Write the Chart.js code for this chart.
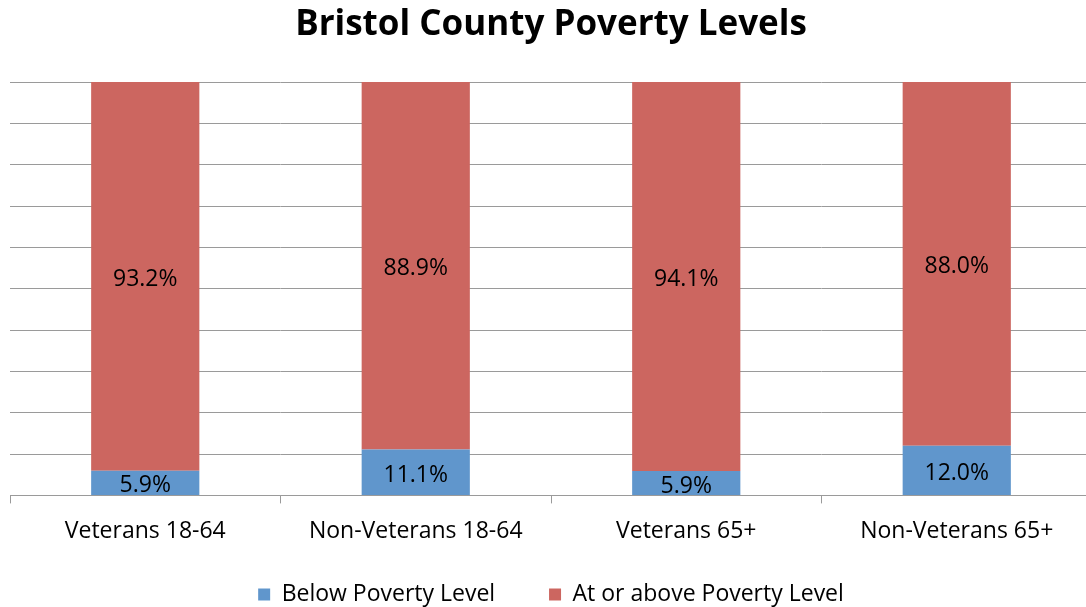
<!DOCTYPE html>
<html lang="en">
<head>
    <meta charset="UTF-8">
    <title>Bristol County Poverty Levels</title>
    <style>
        body {
            margin: 0;
            padding: 0;
            overflow: hidden;
            background: #ffffff;
        }
        .chart-container {
            width: 1096px;
            height: 607px;
        }
    </style>
</head>
<body>
    <div class="chart-container">
        <canvas id="chart"></canvas>
    </div>
    <script src="https://cdn.jsdelivr.net/npm/chart.js"></script>
    <script>
        const categories = ['Veterans 18-64', 'Non-Veterans 18-64', 'Veterans 65+', 'Non-Veterans 65+'];
        const belowPoverty = [5.9, 11.1, 5.9, 12.0];
        const atOrAbovePoverty = [93.2, 88.9, 94.1, 88.0];
        const seriesNames = ['Below Poverty Level', 'At or above Poverty Level'];

        // 100% stacked: each column is scaled to its own total
        const totals = categories.map((c, i) => belowPoverty[i] + atOrAbovePoverty[i]);
        const share = arr => arr.map((v, i) => v / totals[i] * 100);

        const fontFamily = '"Open Sans", "Noto Sans", sans-serif';

        const segmentLabels = {
            id: 'segmentLabels',
            afterDatasetsDraw(chart) {
                const ctx = chart.ctx;
                ctx.save();
                ctx.font = '23px ' + fontFamily;
                ctx.fillStyle = '#000000';
                ctx.textAlign = 'center';
                ctx.textBaseline = 'middle';
                chart.data.datasets.forEach((ds, di) => {
                    const meta = chart.getDatasetMeta(di);
                    meta.data.forEach((bar, i) => {
                        const y = (bar.y + bar.base) / 2 + 3;
                        ctx.fillText(ds.raw[i].toFixed(1) + '%', bar.x, y);
                    });
                });
                ctx.restore();
            }
        };

        const ctx = document.getElementById('chart').getContext('2d');
        new Chart(ctx, {
            type: 'bar',
            data: {
                labels: categories,
                datasets: [
                    {
                        label: seriesNames[0],
                        data: share(belowPoverty),
                        raw: belowPoverty,
                        backgroundColor: '#6096cc',
                        barPercentage: 0.8,
                        categoryPercentage: 0.5
                    },
                    {
                        label: seriesNames[1],
                        data: share(atOrAbovePoverty),
                        raw: atOrAbovePoverty,
                        backgroundColor: '#cc6660',
                        barPercentage: 0.8,
                        categoryPercentage: 0.5
                    }
                ]
            },
            options: {
                responsive: true,
                maintainAspectRatio: false,
                animation: false,
                layout: {
                    padding: { left: 10, right: 4, top: 0, bottom: -9 }
                },
                plugins: {
                    title: {
                        display: true,
                        text: 'Bristol County Poverty Levels',
                        color: '#000000',
                        font: { family: fontFamily, size: 35, weight: 'bold' },
                        padding: { top: 4, bottom: 36 }
                    },
                    legend: {
                        position: 'bottom',
                        labels: {
                            color: '#000000',
                            font: { family: fontFamily, size: 23, lineHeight: 1 },
                            boxWidth: 12,
                            boxHeight: 12,
                            padding: 24,
                            // a few trailing spaces widen the gap between the two entries
                            generateLabels(chart) {
                                const items = Chart.defaults.plugins.legend.labels.generateLabels(chart);
                                items[0].text += '     ';
                                return items;
                            }
                        }
                    },
                    tooltip: { enabled: false }
                },
                scales: {
                    x: {
                        stacked: true,
                        grid: {
                            offset: true,
                            drawOnChartArea: false,
                            color: '#9a9a9a',
                            tickLength: 8
                        },
                        border: { color: '#9a9a9a' },
                        ticks: {
                            color: '#000000',
                            font: { family: fontFamily, size: 23 },
                            padding: 14
                        }
                    },
                    y: {
                        stacked: true,
                        min: 0,
                        max: 100,
                        ticks: { display: false, stepSize: 10 },
                        grid: { color: '#9a9a9a', drawTicks: false },
                        border: { display: false }
                    }
                }
            },
            plugins: [segmentLabels]
        });
    </script>
</body>
</html>
